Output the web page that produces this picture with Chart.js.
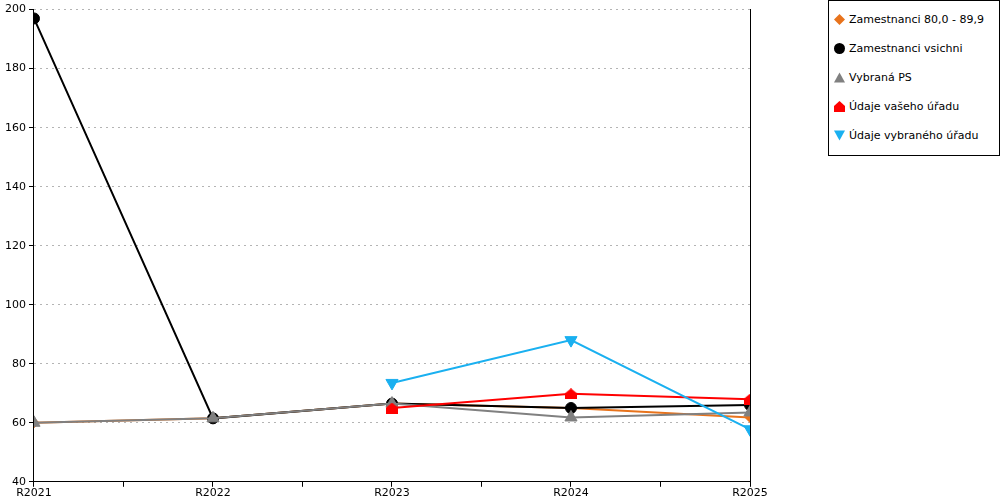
<!DOCTYPE html>
<html>
<head>
<meta charset="utf-8">
<script src="https://cdn.jsdelivr.net/npm/chart.js@4"></script>
<style>
    body { margin: 0; background: #fff; }
    #wrap { position: relative; width: 1000px; height: 500px; }
    #legend {
        position: absolute; left: 828px; top: 0px; width: 170px; height: 154px;
        border: 1px solid #000; background: #fff;
        font-family: 'DejaVu Sans', sans-serif; font-size: 11px; color: #000;
    }
    .item { position: absolute; left: 0; height: 14px; line-height: 14px; white-space: nowrap; }
    .mark { position: absolute; left: 5px; top: 1px; width: 11px; height: 11px; }
    .txt { position: absolute; left: 20px; top: 0; }
</style>
</head>
<body>
<div id="wrap">
    <canvas id="myChart" width="1000" height="500"></canvas>
    <div id="legend"></div>
</div>
<script>
const categories = ['R2021', 'R2022', 'R2023', 'R2024', 'R2025'];

const zam80 = [60, 61.5, 66.5, 65, 61.8];
const zamVsichni = [197, 61.5, 66.5, 65, 66];
const vybranaPS = [60, 61.5, 66.5, 61.8, 63.5];
const vasUrad = [null, null, 65, 69.8, 68];
const vybranyUrad = [null, null, 73.5, 88, 57.8];

const yTicks = [40, 60, 80, 100, 120, 140, 160, 180, 200];

function toPoints(values) {
    return values.map((v, i) => ({ x: i, y: v }));
}

function makeHouse(color) {
    let c = document.createElement('canvas');
    c.width = 12;
    c.height = 11;
    let ctx = c.getContext('2d');
    ctx.fillStyle = color;
    ctx.beginPath();
    ctx.moveTo(6, 0);
    ctx.lineTo(12, 5);
    ctx.lineTo(12, 11);
    ctx.lineTo(0, 11);
    ctx.lineTo(0, 5);
    ctx.closePath();
    ctx.fill();
    return c;
}

function series(label, values, color, style, radius, order, rotation) {
    return {
        label: label,
        data: toPoints(values),
        borderColor: color,
        backgroundColor: color,
        borderWidth: 2,
        pointStyle: style,
        pointRadius: radius,
        pointHoverRadius: radius,
        pointBorderWidth: 1,
        pointRotation: rotation || 0,
        order: order,
        tension: 0
    };
}

const datasets = [
    series('Zamestnanci 80,0 - 89,9', zam80, '#e8731c', 'rectRot', 5, 5),
    series('Zamestnanci vsichni', zamVsichni, '#000000', 'circle', 5.5, 4),
    series('Vybraná PS', vybranaPS, '#808080', 'triangle', 7, 3),
    series('Údaje vašeho úřadu', vasUrad, '#ff0000', makeHouse('#ff0000'), 6, 2),
    series('Údaje vybraného úřadu', vybranyUrad, '#1ab0f0', 'triangle', 7, 1, 180)
];

const legendShapes = [
    'polygon(50% 0, 100% 50%, 50% 100%, 0 50%)',
    'circle(50% at 50% 50%)',
    'polygon(50% 5%, 100% 95%, 0 95%)',
    'polygon(50% 0, 100% 45%, 100% 100%, 0 100%, 0 45%)',
    'polygon(0 5%, 100% 5%, 50% 95%)'
];

let $legend = document.getElementById('legend');
datasets.forEach((ds, i) => {
    let item = document.createElement('div');
    item.className = 'item';
    item.style.top = (12 + i * 29) + 'px';
    let mark = document.createElement('span');
    mark.className = 'mark';
    mark.style.background = ds.borderColor;
    mark.style.clipPath = legendShapes[i];
    let txt = document.createElement('span');
    txt.className = 'txt';
    txt.textContent = ds.label;
    item.append(mark, txt);
    $legend.append(item);
});

Chart.defaults.font.family = "'DejaVu Sans', sans-serif";
Chart.defaults.font.size = 11;
Chart.defaults.color = '#000';

const config = {
    type: 'line',
    data: { datasets: datasets },
    options: {
        responsive: false,
        animation: false,
        devicePixelRatio: 1,
        layout: { padding: { top: 6, right: 250, bottom: 0, left: 2 } },
        plugins: {
            legend: { display: false },
            tooltip: { enabled: false }
        },
        scales: {
            x: {
                type: 'linear',
                min: 0,
                max: categories.length - 1,
                ticks: {
                    stepSize: 0.5,
                    autoSkip: false,
                    maxRotation: 0,
                    padding: 0,
                    callback: v => Number.isInteger(v) ? categories[v] : ''
                },
                grid: {
                    drawOnChartArea: false,
                    tickLength: 5,
                    tickColor: '#000',
                    tickBorderDash: []
                },
                border: { color: '#000', width: 1 }
            },
            y: {
                min: yTicks[0],
                max: yTicks[yTicks.length - 1],
                afterBuildTicks: scale => { scale.ticks = yTicks.map(v => ({ value: v })); },
                ticks: { padding: 3 },
                grid: {
                    color: '#b4b4b4',
                    tickLength: 5,
                    tickColor: '#000',
                    tickBorderDash: []
                },
                border: { color: '#000', width: 1, dash: [2, 4] }
            },
            y2: {
                position: 'right',
                min: yTicks[0],
                max: yTicks[yTicks.length - 1],
                ticks: { display: false },
                grid: { drawOnChartArea: false, drawTicks: false },
                border: { color: '#000', width: 1 }
            }
        }
    }
};

let myChart = new Chart(document.getElementById('myChart'), config);
</script>
</body>
</html>
